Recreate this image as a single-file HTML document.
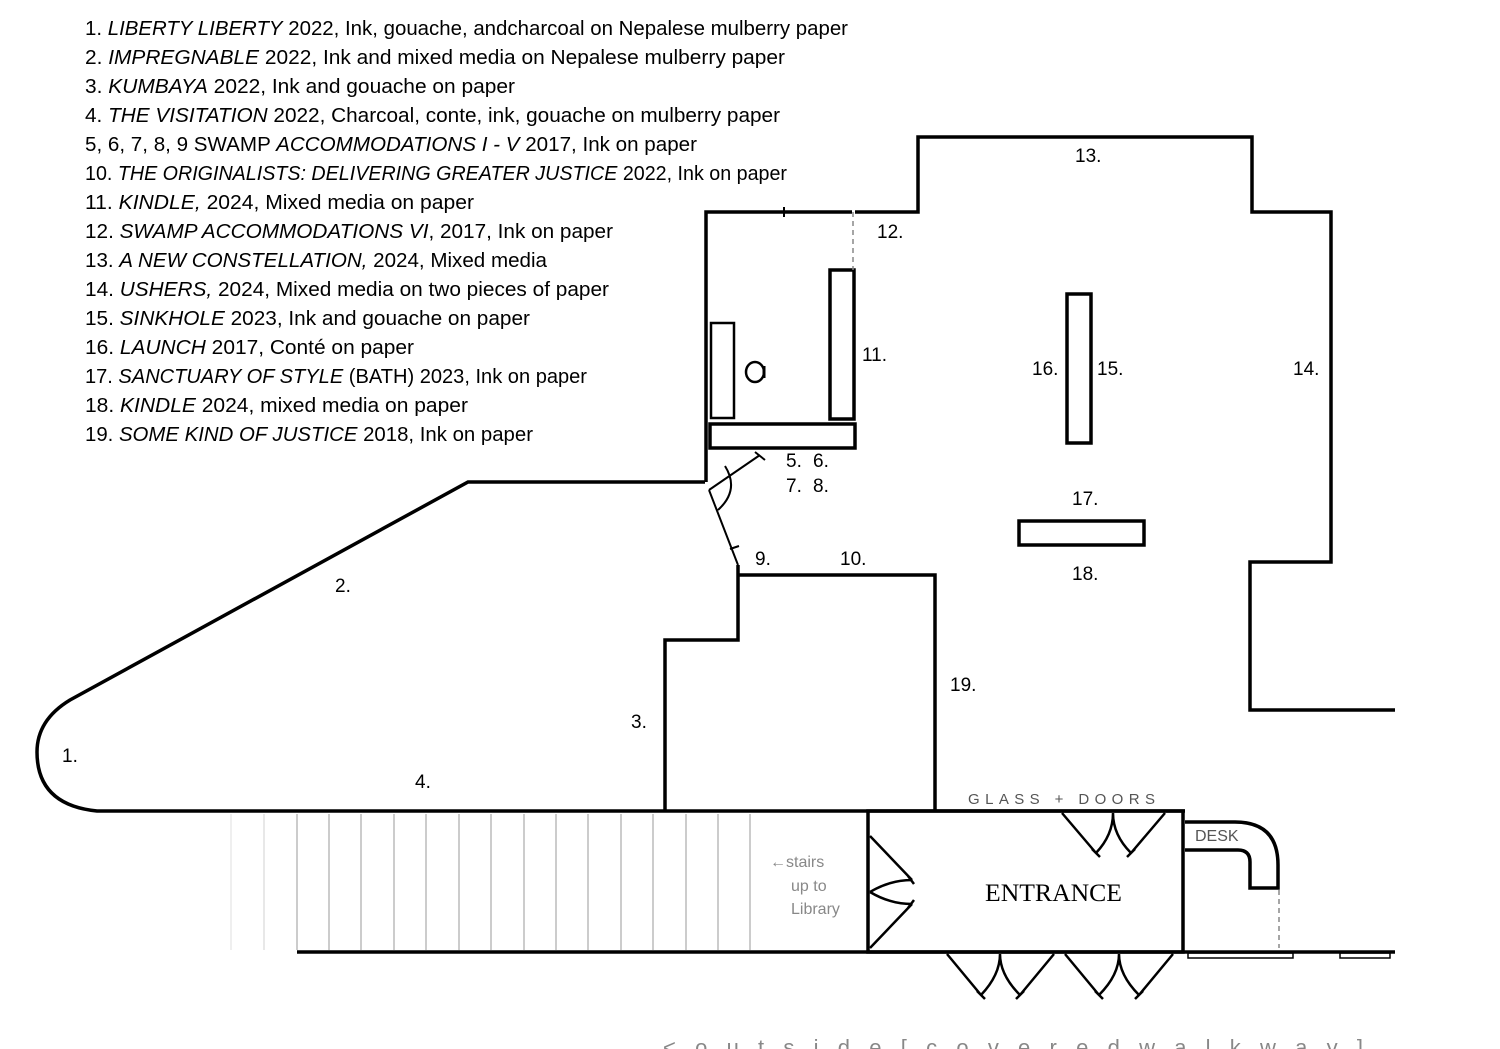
<!DOCTYPE html>
<html><head><meta charset="utf-8"><style>
html,body{margin:0;padding:0;background:#fff;}
svg{display:block}
text{font-family:"Liberation Sans",sans-serif;}
</style></head><body>
<svg width="1500" height="1049" viewBox="0 0 1500 1049" xmlns="http://www.w3.org/2000/svg">
<g font-size="20" fill="#000">
<text x="85" y="35" textLength="763" lengthAdjust="spacingAndGlyphs">1. <tspan font-style="italic">LIBERTY LIBERTY</tspan> 2022, Ink, gouache, andcharcoal on Nepalese mulberry paper</text>
<text x="85" y="64" textLength="700" lengthAdjust="spacingAndGlyphs">2. <tspan font-style="italic">IMPREGNABLE</tspan> 2022, Ink and mixed media on Nepalese mulberry paper</text>
<text x="85" y="93" textLength="430" lengthAdjust="spacingAndGlyphs">3. <tspan font-style="italic">KUMBAYA</tspan> 2022, Ink and gouache on paper</text>
<text x="85" y="122" textLength="695" lengthAdjust="spacingAndGlyphs">4. <tspan font-style="italic">THE VISITATION</tspan> 2022, Charcoal, conte, ink, gouache on mulberry paper</text>
<text x="85" y="151" textLength="612" lengthAdjust="spacingAndGlyphs">5, 6, 7, 8, 9 SWAMP <tspan font-style="italic">ACCOMMODATIONS I - V</tspan> 2017, Ink on paper</text>
<text x="85" y="180" textLength="702" lengthAdjust="spacingAndGlyphs">10. <tspan font-style="italic">THE ORIGINALISTS: DELIVERING GREATER JUSTICE</tspan> 2022, Ink on paper</text>
<text x="85" y="209" textLength="389" lengthAdjust="spacingAndGlyphs">11. <tspan font-style="italic">KINDLE,</tspan> 2024, Mixed media on paper</text>
<text x="85" y="238" textLength="528" lengthAdjust="spacingAndGlyphs">12. <tspan font-style="italic">SWAMP ACCOMMODATIONS VI</tspan>, 2017, Ink on paper</text>
<text x="85" y="267" textLength="462" lengthAdjust="spacingAndGlyphs">13. <tspan font-style="italic">A NEW CONSTELLATION,</tspan> 2024, Mixed media</text>
<text x="85" y="296" textLength="524" lengthAdjust="spacingAndGlyphs">14. <tspan font-style="italic">USHERS,</tspan> 2024, Mixed media on two pieces of paper</text>
<text x="85" y="325" textLength="445" lengthAdjust="spacingAndGlyphs">15. <tspan font-style="italic">SINKHOLE</tspan> 2023, Ink and gouache on paper</text>
<text x="85" y="354" textLength="329" lengthAdjust="spacingAndGlyphs">16. <tspan font-style="italic">LAUNCH</tspan> 2017, Conté on paper</text>
<text x="85" y="383" textLength="502" lengthAdjust="spacingAndGlyphs">17. <tspan font-style="italic">SANCTUARY OF STYLE</tspan> (BATH) 2023, Ink on paper</text>
<text x="85" y="412" textLength="383" lengthAdjust="spacingAndGlyphs">18. <tspan font-style="italic">KINDLE</tspan> 2024, mixed media on paper</text>
<text x="85" y="441" textLength="448" lengthAdjust="spacingAndGlyphs">19. <tspan font-style="italic">SOME KIND OF JUSTICE</tspan> 2018, Ink on paper</text>
</g>
<!-- stairs -->
<g stroke="#aaa" stroke-width="1.2">
<line x1="231" y1="814" x2="231" y2="950" stroke="#e4e4e4"/>
<line x1="264" y1="814" x2="264" y2="950" stroke="#d8d8d8"/>
<line x1="297" y1="814" x2="297" y2="950"/><line x1="329" y1="814" x2="329" y2="950"/>
<line x1="361" y1="814" x2="361" y2="950"/><line x1="394" y1="814" x2="394" y2="950"/>
<line x1="426" y1="814" x2="426" y2="950"/><line x1="459" y1="814" x2="459" y2="950"/>
<line x1="491" y1="814" x2="491" y2="950"/><line x1="524" y1="814" x2="524" y2="950"/>
<line x1="556" y1="814" x2="556" y2="950"/><line x1="588" y1="814" x2="588" y2="950"/>
<line x1="621" y1="814" x2="621" y2="950"/><line x1="653" y1="814" x2="653" y2="950"/>
<line x1="686" y1="814" x2="686" y2="950"/><line x1="718" y1="814" x2="718" y2="950"/>
<line x1="750" y1="814" x2="750" y2="950"/>
</g>
<g fill="none" stroke="#000" stroke-width="3.5">
<path d="M705,482 L468,482 L70,700 Q37,720 37,752 Q37,805 97,811 L1185,811"/>
<path d="M706,482 L706,212 L852,212 M855,212 L918,212 L918,137 L1252,137 L1252,212 L1331,212 L1331,562 L1250,562 L1250,710 L1395,710"/>
<path d="M738,565 L738,640 L665,640 L665,811 M738,575 L935,575 L935,811"/>
<rect x="868" y="811" width="315" height="141"/>
<path d="M297,952 L1395,952"/>
<path d="M1185,822 L1235,822 Q1278,822 1278,865 L1278,888 L1250,888 L1250,862 Q1250,850 1238,850 L1185,850"/>
<rect x="710" y="424" width="145" height="24"/>
<rect x="830" y="270" width="24" height="149"/>
<rect x="1067" y="294" width="24" height="149"/>
<rect x="1019" y="521" width="125" height="24"/>
</g>
<line x1="784" y1="207" x2="784" y2="217" stroke="#000" stroke-width="2"/>
<g fill="none" stroke="#000" stroke-width="2.5">
<rect x="711" y="323" width="23" height="95"/>
<ellipse cx="755" cy="372" rx="9" ry="10"/>
<line x1="764" y1="366" x2="764" y2="378" stroke-width="3"/>
</g>
<g fill="none" stroke="#000" stroke-width="2">
<path d="M709,490 L760,455 M755,452 L765,460 M709,490 L738,565 M730,549 L739,546 M725,466 Q740,490 718,510"/>
</g>
<g fill="none" stroke="#888" stroke-width="1.5" stroke-dasharray="5,4">
<line x1="853" y1="212" x2="853" y2="270"/>
<line x1="1279" y1="890" x2="1279" y2="948"/>
</g>
<g fill="none" stroke="#000" stroke-width="1.5">
<rect x="1188" y="953" width="105" height="5"/>
<rect x="1340" y="953" width="50" height="5"/>
</g>
<g fill="none" stroke="#000" stroke-width="2.5">
<path d="M1062,813 L1096,853 M1165,813 L1131,853 M1113,813 Q1113,835 1096,853 M1113,813 Q1113,835 1131,853 M1092,849 L1100,857 M1135,849 L1127,857"/>
<path d="M870,836 L912,880 M870,948 L912,904 M870,892 Q890,880 912,880 M870,892 Q890,904 912,904 M908,876 L914,884 M908,908 L914,900"/>
<path d="M947,954 L981,995 M1054,954 L1020,995 M1000,954 Q1000,975 981,995 M1000,954 Q1000,975 1020,995 M977,991 L985,999 M1024,991 L1016,999"/>
<path d="M1065,954 L1099,995 M1173,954 L1139,995 M1119,954 Q1119,975 1099,995 M1119,954 Q1119,975 1139,995 M1095,991 L1103,999 M1143,991 L1135,999"/>
</g>
<g font-size="19" fill="#000">
<text x="62" y="762">1.</text><text x="335" y="592">2.</text><text x="631" y="728">3.</text>
<text x="415" y="788">4.</text>
<text x="786" y="467">5.</text><text x="813" y="467">6.</text>
<text x="786" y="492">7.</text><text x="813" y="492">8.</text>
<text x="755" y="565">9.</text><text x="840" y="565">10.</text>
<text x="862" y="361">11.</text><text x="877" y="238">12.</text><text x="1075" y="162">13.</text>
<text x="1293" y="375">14.</text><text x="1097" y="375">15.</text><text x="1032" y="375">16.</text>
<text x="1072" y="505">17.</text><text x="1072" y="580">18.</text><text x="950" y="691">19.</text>
</g>
<text x="968" y="804" font-size="15" fill="#555" textLength="187" lengthAdjust="spacing">GLASS + DOORS</text>
<text x="1195" y="841" font-size="16" fill="#555">DESK</text>
<text x="985" y="901" font-size="25" fill="#000" textLength="137" lengthAdjust="spacingAndGlyphs" style="font-family:'Liberation Serif',serif">ENTRANCE</text>
<g font-size="16" fill="#888"><text x="770" y="867">←stairs</text><text x="791" y="891">up to</text><text x="791" y="914">Library</text></g>
<text x="663" y="1055" font-size="22" fill="#888" textLength="700" lengthAdjust="spacing">&lt;    o u t s i d e   [ c o v e r e d   w a l k w a y ]</text>
</svg>
</body></html>
